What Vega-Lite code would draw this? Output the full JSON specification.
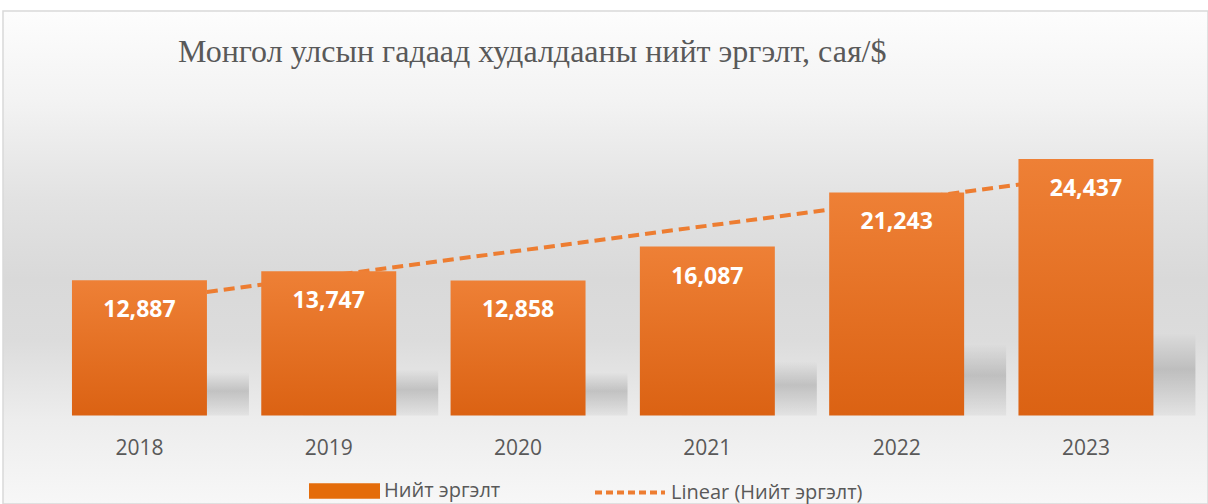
{
  "$schema": "https://vega.github.io/schema/vega-lite/v6.json",
  "width": 1205,
  "height": 493,
  "autosize": {"type": "none"},
  "padding": {"left": 3, "top": 11, "right": 0, "bottom": 0},
  "background": "#ffffff",
  "title": {
    "text": "Монгол улсын гадаад худалдааны нийт эргэлт, сая/$",
    "anchor": "start",
    "frame": "group",
    "orient": "top",
    "offset": -83,
    "dx": 175,
    "baseline": "alphabetic",
    "font": "Liberation Serif",
    "fontSize": 32,
    "fontWeight": "normal",
    "color": "#595959"
  },
  "data": {
    "values": [
      {"year": "2018", "value": 12887, "trend": 10915},
      {"year": "2019", "value": 13747, "trend": 13299},
      {"year": "2020", "value": 12858, "trend": 15684},
      {"year": "2021", "value": 16087, "trend": 18069},
      {"year": "2022", "value": 21243, "trend": 20454},
      {"year": "2023", "value": 24437, "trend": 22838}
    ]
  },
  "encoding": {
    "x": {
      "field": "year",
      "type": "ordinal",
      "scale": {"range": [41.8, 1177.6], "paddingInner": 0.287, "paddingOuter": 0.1435},
      "axis": {
        "title": null,
        "orient": "bottom",
        "offset": -56,
        "domain": false,
        "ticks": false,
        "tickSize": 0,
        "labelPadding": 0,
        "labelBaseline": "middle",
        "labelAngle": 0,
        "labelFont": "Open Sans",
        "labelFontSize": 21,
        "labelColor": "#595959",
        "grid": false
      }
    }
  },
  "layer": [
    {
      "mark": {
        "type": "bar",
        "xOffset": 42,
        "fill": {
          "gradient": "linear", "x1": 0, "y1": 0, "x2": 0, "y2": 1,
          "stops": [
            {"offset": 0, "color": "rgba(0,0,0,0)"},
            {"offset": 0.68, "color": "rgba(0,0,0,0)"},
            {"offset": 0.82, "color": "rgba(0,0,0,0.16)"},
            {"offset": 1, "color": "rgba(0,0,0,0.04)"}
          ]
        }
      },
      "encoding": {
        "y": {"field": "value", "type": "quantitative", "scale": {"domain": [-8429, 38524], "nice": false, "zero": false}, "axis": null},
        "y2": {"datum": 0}
      }
    },
    {
      "mark": {"type": "line", "strokeWidth": 4, "strokeDash": [11, 6]},
      "encoding": {
        "y": {"field": "trend", "type": "quantitative", "axis": null},
        "stroke": {
          "datum": "Linear (Нийт эргэлт)",
          "scale": {"range": ["#ED7D31"]},
          "legend": {
            "title": null,
            "orient": "none",
            "legendX": 590,
            "legendY": 444.5,
            "padding": 0,
            "symbolType": "stroke",
            "symbolSize": 4900,
            "symbolStrokeWidth": 4,
            "symbolDash": [7, 4],
            "labelOffset": 4,
            "labelLimit": 400,
            "labelFont": "Open Sans",
            "labelFontSize": 20,
            "labelColor": "#595959"
          }
        }
      }
    },
    {
      "mark": {
        "type": "bar",
        "fill": {
          "gradient": "linear", "x1": 0, "y1": 0, "x2": 0, "y2": 1,
          "stops": [
            {"offset": 0, "color": "#EE8036"},
            {"offset": 1, "color": "#DB6213"}
          ]
        }
      },
      "encoding": {
        "y": {"field": "value", "type": "quantitative", "axis": null},
        "y2": {"datum": 0}
      }
    },
    {
      "transform": [{"filter": "false"}],
      "mark": {"type": "bar"},
      "encoding": {
        "fill": {
          "datum": "Нийт эргэлт",
          "scale": {"range": ["#E46C0A"]},
          "legend": {
            "title": null,
            "orient": "none",
            "legendX": 306,
            "legendY": 444.5,
            "padding": 0,
            "symbolType": "M-1,-0.22H1V0.22H-1Z",
            "symbolSize": 5041,
            "symbolStrokeWidth": 0,
            "labelOffset": 4,
            "labelLimit": 400,
            "labelFont": "Open Sans",
            "labelFontSize": 20,
            "labelColor": "#595959",
            "encode": {
              "symbols": {
                "update": {
                  "fill": {"value": {
                    "gradient": "linear", "x1": 0, "y1": 0, "x2": 0, "y2": 1,
                    "stops": [
                      {"offset": 0, "color": "#EE8036"},
                      {"offset": 1, "color": "#DB6213"}
                    ]
                  }},
                  "opacity": {"value": 1}
                }
              }
            }
          }
        }
      }
    },
    {
      "mark": {"type": "text", "font": "Open Sans", "fontWeight": "bold", "fontSize": 23, "color": "#ffffff", "baseline": "middle", "dy": 30},
      "encoding": {
        "y": {"field": "value", "type": "quantitative", "axis": null},
        "text": {"field": "value", "type": "quantitative", "format": ","}
      }
    }
  ],
  "config": {
    "view": {
      "stroke": "#d9d9d9",
      "strokeWidth": 1.5,
      "fill": {
        "gradient": "linear", "x1": 0, "y1": 0, "x2": 0, "y2": 1,
        "stops": [
          {"offset": 0, "color": "#fdfdfd"},
          {"offset": 0.18, "color": "#f3f3f3"},
          {"offset": 0.383, "color": "#e2e2e2"},
          {"offset": 0.546, "color": "#d9d9d9"},
          {"offset": 0.667, "color": "#dcdcdc"},
          {"offset": 0.83, "color": "#ededed"},
          {"offset": 1, "color": "#f7f7f7"}
        ]
      }
    }
  }
}
